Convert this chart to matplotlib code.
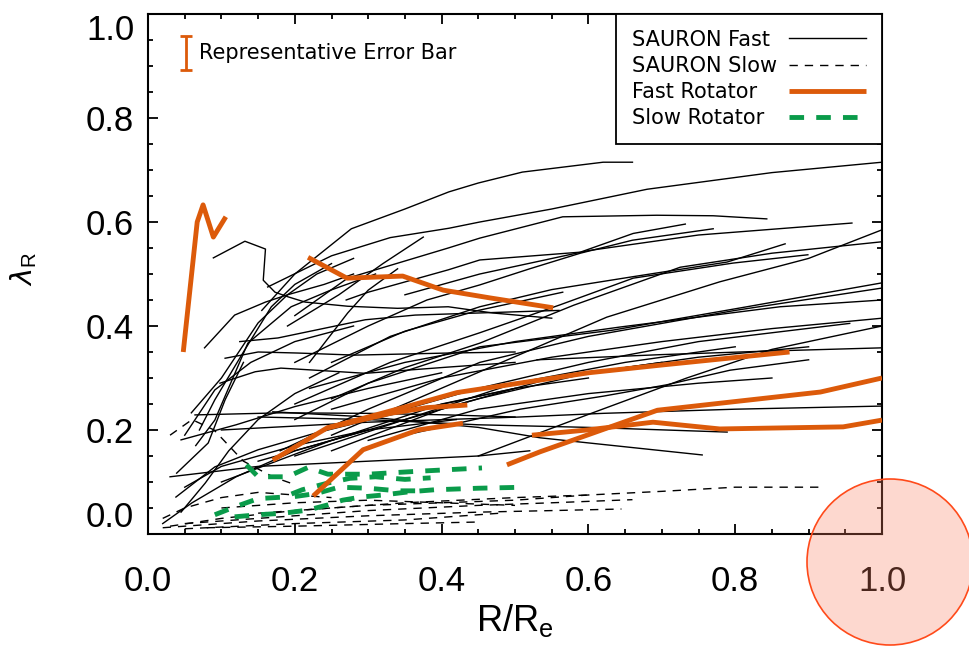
import numpy as np
import matplotlib
matplotlib.use('Agg')
import matplotlib.pyplot as plt
from matplotlib.patches import Ellipse
from matplotlib.ticker import MultipleLocator

plt.rcParams['font.family'] = ['Liberation Sans', 'DejaVu Sans']

# lambda_R profiles, each curve as (R/Re, lambda_R)
sauron_fast = [
    ([0.089, 0.132, 0.16, 0.157, 0.173, 0.191, 0.214, 0.272, 0.34, 0.409, 0.47, 0.55],
     [0.531, 0.563, 0.548, 0.488, 0.465, 0.456, 0.446, 0.438, 0.434, 0.437, 0.425, 0.415]),
    ([0.155, 0.20, 0.277, 0.35, 0.41, 0.45, 0.51, 0.62, 0.66],
     [0.43, 0.50, 0.587, 0.625, 0.658, 0.675, 0.696, 0.715, 0.715]),
    ([0.163, 0.25, 0.33, 0.41, 0.452, 0.55, 0.68, 0.85, 1.0],
     [0.475, 0.535, 0.57, 0.588, 0.60, 0.625, 0.663, 0.695, 0.715]),
    ([0.19, 0.26, 0.32, 0.375], [0.40, 0.46, 0.52, 0.571]),
    ([0.20, 0.272, 0.35, 0.409, 0.452, 0.565, 0.693, 0.77, 0.843],
     [0.42, 0.492, 0.525, 0.55, 0.569, 0.61, 0.613, 0.612, 0.606]),
    ([0.27, 0.30, 0.409, 0.452, 0.589, 0.661, 0.732],
     [0.45, 0.465, 0.508, 0.527, 0.542, 0.578, 0.596]),
    ([0.20, 0.30, 0.38, 0.452, 0.52, 0.589, 0.66, 0.77],
     [0.33, 0.40, 0.45, 0.479, 0.51, 0.54, 0.565, 0.587]),
    ([0.22, 0.33, 0.452, 0.55, 0.657, 0.789, 0.868],
     [0.30, 0.38, 0.437, 0.47, 0.494, 0.523, 0.558]),
    ([0.20, 0.33, 0.452, 0.56, 0.661, 0.797, 0.899],
     [0.25, 0.33, 0.387, 0.44, 0.492, 0.521, 0.537]),
    ([0.25, 0.35, 0.452, 0.58, 0.725, 0.85, 1.0],
     [0.26, 0.32, 0.367, 0.44, 0.513, 0.54, 0.562]),
    ([0.25, 0.35, 0.452, 0.625, 0.779, 0.90, 1.0],
     [0.19, 0.25, 0.312, 0.417, 0.485, 0.53, 0.585]),
    ([0.20, 0.30, 0.452, 0.633, 0.816, 1.0], [0.22, 0.29, 0.36, 0.392, 0.437, 0.483]),
    ([0.18, 0.30, 0.452, 0.60, 0.80, 1.0], [0.16, 0.24, 0.33, 0.38, 0.43, 0.473]),
    ([0.22, 0.35, 0.50, 0.643, 0.861, 1.0], [0.28, 0.33, 0.37, 0.398, 0.437, 0.45]),
    ([0.25, 0.40, 0.55, 0.70, 0.85, 1.0], [0.24, 0.30, 0.34, 0.37, 0.395, 0.415]),
    ([0.30, 0.45, 0.60, 0.75, 0.956], [0.22, 0.28, 0.33, 0.37, 0.405]),
    ([0.53, 0.70, 0.85, 1.0], [0.335, 0.345, 0.352, 0.358]),
    ([0.35, 0.507, 0.62, 0.707, 0.793, 0.90], [0.19, 0.24, 0.265, 0.287, 0.315, 0.335]),
    ([0.10, 0.30, 0.507, 0.62, 0.80, 1.0], [0.20, 0.215, 0.225, 0.232, 0.24, 0.246]),
    ([0.17, 0.30, 0.45, 0.534, 0.755], [0.235, 0.225, 0.205, 0.185, 0.152]),
    ([0.15, 0.30, 0.45, 0.60, 0.789], [0.225, 0.22, 0.21, 0.205, 0.196]),
    ([0.45, 0.60, 0.734, 0.85, 1.0], [0.15, 0.23, 0.30, 0.355, 0.40]),
    ([0.03, 0.15, 0.30, 0.45, 0.52], [0.11, 0.13, 0.14, 0.15, 0.16]),
    ([0.077, 0.118, 0.16, 0.19, 0.24, 0.28], [0.358, 0.421, 0.446, 0.46, 0.48, 0.50]),
    ([0.125, 0.177, 0.228, 0.296, 0.364, 0.45, 0.56], [0.37, 0.377, 0.392, 0.412, 0.421, 0.425, 0.43]),
    ([0.105, 0.15, 0.204, 0.282, 0.409, 0.50], [0.338, 0.35, 0.348, 0.344, 0.348, 0.35]),
    ([0.098, 0.146, 0.181, 0.228, 0.296, 0.409, 0.50], [0.29, 0.312, 0.319, 0.315, 0.309, 0.321, 0.33]),
    ([0.059, 0.10, 0.15, 0.19, 0.23, 0.28], [0.233, 0.30, 0.406, 0.46, 0.50, 0.53]),
    ([0.07, 0.091, 0.13, 0.168, 0.20, 0.25], [0.20, 0.258, 0.35, 0.437, 0.48, 0.52]),
    ([0.065, 0.091, 0.136, 0.195, 0.249, 0.31], [0.17, 0.219, 0.367, 0.437, 0.469, 0.50]),
    ([0.05, 0.091, 0.14, 0.20, 0.28], [0.19, 0.277, 0.33, 0.37, 0.40]),
    ([0.22, 0.272, 0.30, 0.34], [0.33, 0.425, 0.469, 0.51]),
    ([0.039, 0.082, 0.105, 0.13], [0.117, 0.175, 0.258, 0.33]),
    ([0.038, 0.091, 0.15, 0.228, 0.317, 0.409, 0.50, 0.60],
     [0.071, 0.129, 0.162, 0.194, 0.225, 0.252, 0.28, 0.30]),
    ([0.045, 0.078, 0.11, 0.15, 0.20, 0.26], [0.042, 0.098, 0.16, 0.22, 0.27, 0.31]),
    ([0.064, 0.181, 0.30, 0.409, 0.50], [0.229, 0.233, 0.232, 0.229, 0.225]),
    ([0.045, 0.12, 0.20, 0.30, 0.40], [0.181, 0.21, 0.245, 0.28, 0.31]),
    ([0.15, 0.30, 0.45, 0.60, 0.75, 0.90], [0.14, 0.20, 0.26, 0.31, 0.34, 0.36]),
    ([0.20, 0.35, 0.50, 0.65, 0.80], [0.15, 0.22, 0.29, 0.33, 0.36]),
    ([0.25, 0.40, 0.55, 0.70], [0.16, 0.24, 0.30, 0.33]),
    ([0.10, 0.25, 0.40, 0.50], [0.10, 0.18, 0.25, 0.28]),
    ([0.30, 0.45, 0.60, 0.75, 0.85], [0.18, 0.24, 0.27, 0.29, 0.30]),
    ([0.35, 0.452, 0.60, 0.75, 0.959], [0.46, 0.50, 0.545, 0.575, 0.598]),
    ([0.25, 0.35, 0.45, 0.565], [0.33, 0.39, 0.43, 0.465]),
    ([0.02, 0.06, 0.12, 0.20, 0.30], [0.02, 0.06, 0.11, 0.16, 0.20]),
    ([0.05, 0.10, 0.20, 0.30, 0.42], [0.09, 0.13, 0.17, 0.20, 0.22]),
]

sauron_slow = [
    ([0.03, 0.10, 0.20, 0.30, 0.40, 0.50, 0.60, 0.70, 0.80, 0.92],
     [0.015, 0.03, 0.045, 0.055, 0.06, 0.065, 0.075, 0.082, 0.09, 0.09]),
    ([0.05, 0.15, 0.30, 0.45, 0.55, 0.66], [0.02, 0.03, 0.045, 0.055, 0.06, 0.066]),
    ([0.02, 0.15, 0.30, 0.45, 0.55, 0.645], [0.012, 0.025, 0.035, 0.042, 0.045, 0.048]),
    ([0.05, 0.20, 0.35, 0.48], [0.01, 0.02, 0.027, 0.04]),
    ([0.08, 0.20, 0.35, 0.45], [0.012, 0.015, 0.02, 0.023]),
    ([0.03, 0.06, 0.09, 0.13, 0.17, 0.20], [0.19, 0.22, 0.20, 0.14, 0.11, 0.095]),
    ([0.02, 0.05, 0.10, 0.15, 0.20, 0.25], [0.03, 0.05, 0.07, 0.08, 0.075, 0.07]),
    ([0.10, 0.20, 0.30, 0.40, 0.50], [0.05, 0.06, 0.065, 0.06, 0.055]),
    ([0.15, 0.25, 0.35, 0.50, 0.60], [0.04, 0.05, 0.06, 0.07, 0.075]),
]

fast_rot = [
    ([0.048, 0.067, 0.075, 0.089, 0.106], [0.35, 0.60, 0.633, 0.571, 0.61]),
    ([0.218, 0.271, 0.347, 0.402, 0.466, 0.552], [0.532, 0.492, 0.496, 0.469, 0.454, 0.435]),
    ([0.170, 0.244, 0.30, 0.36, 0.421, 0.534, 0.60, 0.70, 0.874],
     [0.142, 0.204, 0.225, 0.248, 0.272, 0.296, 0.31, 0.325, 0.35]),
    ([0.244, 0.33, 0.38, 0.435], [0.204, 0.232, 0.243, 0.248]),
    ([0.225, 0.293, 0.368, 0.429], [0.073, 0.162, 0.20, 0.213]),
    ([0.489, 0.534, 0.694, 0.916, 1.0], [0.133, 0.158, 0.238, 0.273, 0.30]),
    ([0.523, 0.598, 0.688, 0.779, 0.947, 1.0], [0.19, 0.20, 0.215, 0.202, 0.206, 0.219]),
]

slow_rot = [
    ([0.134, 0.150, 0.19, 0.218, 0.245, 0.30, 0.36, 0.40, 0.455],
     [0.133, 0.110, 0.110, 0.128, 0.115, 0.115, 0.120, 0.123, 0.127]),
    ([0.091, 0.118, 0.15, 0.185, 0.21, 0.245, 0.275, 0.31, 0.35, 0.385],
     [0.037, 0.052, 0.068, 0.071, 0.085, 0.098, 0.107, 0.110, 0.105, 0.108]),
    ([0.118, 0.15, 0.185, 0.218, 0.245, 0.265, 0.29, 0.32, 0.355, 0.39, 0.45, 0.515],
     [0.033, 0.037, 0.040, 0.046, 0.056, 0.065, 0.071, 0.075, 0.081, 0.085, 0.088, 0.090]),
    ([0.20, 0.23, 0.26, 0.30, 0.34, 0.38], [0.072, 0.078, 0.09, 0.088, 0.083, 0.083]),
]

err_x, err_y, err_size = 0.052, 0.925, 0.032

orange = '#DC5A0A'
green = '#0A9B4A'

fig = plt.figure(figsize=(9.7, 6.46), dpi=100)
ax = fig.add_axes([0.1526, 0.1734, 0.7567, 0.8049])

for i, (x, y) in enumerate(sauron_fast):
    ax.plot(x, y, color='black', lw=1.0, label='SAURON Fast' if i == 0 else None)
for i, (x, y) in enumerate(sauron_slow):
    ax.plot(x, y, color='black', lw=1.0, dashes=(6, 5),
            label='SAURON Slow' if i == 0 else None)
for i, (x, y) in enumerate(slow_rot):
    ax.plot(x, y, color=green, lw=3.5, dashes=(3, 2.5),
            label='Slow Rotator' if i == 0 else None, zorder=3)
for i, (x, y) in enumerate(fast_rot):
    ax.plot(x, y, color=orange, lw=3.5, solid_capstyle='butt',
            label='Fast Rotator' if i == 0 else None, zorder=4)

ax.errorbar([err_x], [err_y], yerr=err_size, color=orange, lw=2, capsize=4, capthick=2)
ax.text(0.07, err_y, 'Representative Error Bar', fontsize=15, family='DejaVu Sans',
        va='center', ha='left')

h, l = ax.get_legend_handles_labels()
order = ['SAURON Fast', 'SAURON Slow', 'Fast Rotator', 'Slow Rotator']
hd = dict(zip(l, h))
leg = ax.legend([hd[k] for k in order], order, loc='upper right', borderaxespad=0,
                markerfirst=False, fancybox=False, framealpha=1, edgecolor='black',
                prop={'family': 'DejaVu Sans', 'size': 15}, handlelength=3.7,
                handletextpad=0.6, labelspacing=0.3, borderpad=0.75)
leg.get_frame().set_linewidth(1.3)

ax.set_xlim(0, 1)
ax.set_ylim(0, 1)
ax.xaxis.set_major_locator(MultipleLocator(0.2))
ax.xaxis.set_minor_locator(MultipleLocator(0.05))
ax.yaxis.set_major_locator(MultipleLocator(0.2))
ax.yaxis.set_minor_locator(MultipleLocator(0.05))
ax.tick_params(which='both', direction='in', top=True, right=True, width=1.3)
ax.tick_params(which='major', length=7)
ax.tick_params(which='minor', length=3.5)
ax.tick_params(axis='x', labelsize=25, pad=22)
ax.tick_params(axis='y', labelsize=25, pad=10)
for s in ax.spines.values():
    s.set_linewidth(1.5)

ax.set_xticks([0, 0.2, 0.4, 0.6, 0.8, 1.0])
ax.set_xticklabels(['0.0', '0.2', '0.4', '0.6', '0.8', '1.0'])
ax.set_yticks([0, 0.2, 0.4, 0.6, 0.8, 1.0])
ylabs = ax.set_yticklabels(['0.0', '0.2', '0.4', '0.6', '0.8', '1.0'])
ylabs[0].set_va('bottom')
ylabs[-1].set_va('top')

ax.set_xlabel(r'R/R$_\mathregular{e}$', fontsize=26)
ax.xaxis.set_label_coords(0.5, -0.13)
ax.set_ylabel(r'$\lambda_\mathregular{R}$', fontsize=21)
ax.yaxis.set_label_coords(-0.148, 0.51)

# highlight ring around the last x label
ring = Ellipse((8.90, 0.84), 1.66, 1.66, transform=fig.dpi_scale_trans,
               facecolor=(0.98, 0.5, 0.38, 0.3), edgecolor='#FF4A1A', lw=1.2)
fig.add_artist(ring)

# legend: labels flush left, line samples flush right
fig.canvas.draw()
rend = fig.canvas.get_renderer()
col = leg._legend_handle_box.get_children()[0]
col.align = 'left'
widths = [t.get_window_extent(rend).width for t in leg.get_texts()]
for row, w in zip(col.get_children(), widths):
    row.sep = 0.6 * 15 + (max(widths) - w) * 72.0 / fig.dpi

plt.savefig('out.png', dpi=100)
